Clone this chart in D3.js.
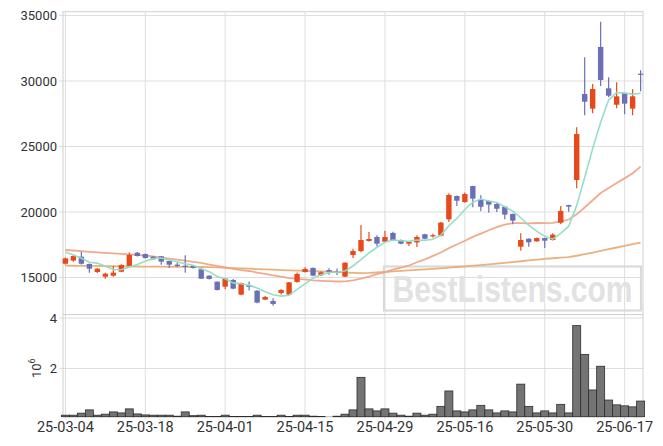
<!DOCTYPE html>
<html><head><meta charset="utf-8">
<script src="https://cdn.jsdelivr.net/npm/d3@7"></script>
<style>html,body{margin:0;padding:0;background:#fff;}svg{display:block;}</style>
</head><body>
<svg id="chart" width="663" height="446"></svg>
<script>
const dates = ["25-03-04","25-03-05","25-03-06","25-03-07","25-03-10","25-03-11","25-03-12","25-03-13","25-03-14","25-03-17",
"25-03-18","25-03-19","25-03-20","25-03-21","25-03-24","25-03-25","25-03-26","25-03-27","25-03-28","25-03-31",
"25-04-01","25-04-02","25-04-03","25-04-04","25-04-07","25-04-08","25-04-09","25-04-10","25-04-11","25-04-14",
"25-04-15","25-04-16","25-04-17","25-04-18","25-04-21","25-04-22","25-04-23","25-04-24","25-04-25","25-04-28",
"25-04-29","25-04-30","25-05-02","25-05-07","25-05-08","25-05-09","25-05-12","25-05-13","25-05-14","25-05-15",
"25-05-16","25-05-19","25-05-20","25-05-21","25-05-22","25-05-23","25-05-26","25-05-27","25-05-28","25-05-29",
"25-05-30","25-06-02","25-06-04","25-06-05","25-06-09","25-06-10","25-06-11","25-06-12","25-06-13","25-06-16",
"25-06-17","25-06-18","25-06-19"];

const open = [16050,16290,16590,16030,15420,15060,15140,15440,15880,16890,
16790,16590,16620,16260,15980,15900,15880,15630,15140,14680,
14300,14810,13690,14430,13990,13310,13210,13820,13690,14660,
15420,15730,15170,15570,15450,15060,16720,17020,17790,18090,
17730,18400,17860,17580,17680,18300,18140,18190,19440,21220,
20760,21980,20920,20840,20610,20410,19850,17350,17960,17760,
18010,17860,19180,20530,22440,29010,27890,32600,29440,28190,
29060,27890,30560];
const high = [16520,16700,16970,16060,15720,15360,15880,16020,16900,16940,
16830,16620,16650,16280,16130,16700,15920,15720,15170,14700,
14950,14880,14620,14700,14050,13580,13420,14100,14660,15380,
15780,15760,15450,15710,15680,16160,17200,19010,18470,18220,
18560,18500,17900,17730,18220,18330,18330,19230,21430,21260,
21480,22000,21280,20880,20710,20420,19880,18370,18000,18050,
18030,18370,20460,20560,26470,31810,29770,34530,30280,29900,
29100,29370,30820];
const low = [16000,16200,16000,15370,15340,14900,15060,15400,15850,16600,
16450,16350,15980,15740,15780,15370,15680,14880,14850,14000,
14100,14100,13650,14000,13040,13280,12850,13700,13650,14600,
15380,15100,15120,15200,15190,15030,16480,16920,17740,17380,
17680,17800,17540,17400,17330,17900,18060,18150,19230,20450,
20700,20360,20050,19940,20000,19450,19060,17050,17350,17720,
17260,17830,19080,20020,21810,27380,27530,29620,28750,27920,
27460,27380,29210];
const close = [16460,16640,16050,15670,15670,15290,15370,15950,16720,16640,
16490,16390,16210,15980,15880,15820,15730,14910,14890,14050,
14930,14150,14580,14280,13080,13510,12980,14050,14630,15270,
15650,15140,15400,15440,15400,16130,17020,17860,17940,17580,
18090,17840,17580,17710,18090,17960,18230,19190,21300,20860,
21370,21020,20400,20560,20250,19800,19340,17860,17690,18010,
17810,18270,20080,20410,25950,28420,29390,30080,28880,28830,
28270,28830,30520];

const ma5 = [16950,16720,16470,16160,16098,15864,15610,15590,15800,15994,
16234,16438,16490,16342,16190,16056,15924,15664,15446,15080,
14902,14586,14520,14398,14204,13920,13686,13580,13650,14088,
14516,14948,15218,15380,15406,15502,15878,16370,16870,17306,
17698,17862,17806,17760,17862,17836,17914,18236,18954,19508,
20190,20748,20990,20842,20720,20406,20070,19562,18988,18540,
18142,17928,18372,18916,20504,22626,24850,26850,28544,29120,
29090,28978,29066];
const ma20 = [17100,17060,17010,16960,16920,16880,16840,16800,16760,16720,
16680,16620,16520,16440,16360,16280,16200,16110,15990,15880,
15780,15650,15570,15497,15367,15278,15159,15064,14959,14891,
14849,14786,14746,14719,14695,14710,14775,14922,15075,15251,
15409,15594,15744,15915,16166,16388,16651,16908,17241,17521,
17807,18101,18351,18607,18849,19033,19149,19149,19136,19158,
19144,19165,19290,19425,19818,20341,20899,21444,21823,22221,
22566,22956,23462];
const ma60 = [15900,15895,15890,15885,15880,15870,15860,15850,15845,15840,
15835,15830,15825,15820,15815,15810,15805,15800,15790,15770,
15745,15720,15695,15670,15645,15620,15595,15570,15545,15520,
15500,15480,15465,15450,15420,15390,15360,15340,15350,15380,
15420,15460,15500,15540,15580,15620,15660,15700,15750,15800,
15850,15900,15950,16000,16060,16120,16180,16240,16300,16360,
16420,16470,16510,16560,16660,16780,16900,17030,17160,17290,
17410,17540,17660];

const volume = [150000,150000,230000,360000,150000,190000,280000,240000,400000,200000,
160000,150000,150000,150000,110000,280000,130000,150000,100000,100000,
150000,100000,100000,100000,150000,100000,100000,150000,100000,150000,
150000,110000,100000,90000,110000,190000,360000,1650000,400000,320000,
400000,230000,150000,110000,230000,150000,190000,500000,1110000,320000,
280000,360000,540000,360000,240000,320000,280000,1380000,500000,240000,
320000,240000,580000,240000,3700000,2560000,1150000,2090000,750000,560000,
520000,480000,710000];

const priceTicks = [15000,20000,25000,30000,35000];
const volTicks = [2000000,4000000];
const dateTickIdx = [0,10,20,30,40,50,60,70];
const watermark = "BestListens.com";

const svg = d3.select("#chart");
const L = 63, R = 643, PT = 11.7, PB = 314.5, VT = 314.5, VB = 416.7;
const n = dates.length;
const x = d3.scaleLinear().domain([-0.3, n - 1 + 0.3]).range([L, R]);
const y = d3.scaleLinear().domain([12175, 35290]).range([PB, PT]);
const yv = d3.scaleLinear().domain([90000, 4140000]).range([VB, VT]);

const grid = "#dedede", font = "Roboto, 'DejaVu Sans', sans-serif", txt = "#333";

// grids
const g = svg.append("g");
g.selectAll("line.hg").data(priceTicks).join("line")
  .attr("x1", L - 4).attr("x2", R).attr("y1", d => y(d)).attr("y2", d => y(d))
  .attr("stroke", grid).attr("stroke-width", 1);
g.selectAll("line.vg").data(volTicks).join("line")
  .attr("x1", L - 4).attr("x2", R).attr("y1", d => yv(d)).attr("y2", d => yv(d))
  .attr("stroke", grid).attr("stroke-width", 1);
g.selectAll("line.xg").data(dateTickIdx).join("line")
  .attr("x1", d => x(d)).attr("x2", d => x(d)).attr("y1", PT).attr("y2", VB + 3)
  .attr("stroke", grid).attr("stroke-width", 1);
// frames
svg.append("rect").attr("x", L).attr("y", PT).attr("width", R - L).attr("height", PB - PT)
  .attr("fill", "none").attr("stroke", "#d0d0d0");
svg.append("line").attr("x1", L).attr("x2", L).attr("y1", VT).attr("y2", VB).attr("stroke", "#d0d0d0");
svg.append("line").attr("x1", R).attr("x2", R).attr("y1", VT).attr("y2", VB).attr("stroke", "#d0d0d0");
svg.append("line").attr("x1", L).attr("x2", R).attr("y1", VB).attr("y2", VB).attr("stroke", "#bbb");

// watermark
const wm = svg.append("g");
wm.append("rect").attr("x", 384).attr("y", 266.5).attr("width", 257).attr("height", 44)
  .attr("fill", "none").attr("stroke", "#dadada").attr("stroke-width", 2.2);
wm.append("text").attr("transform", "translate(512.5,301.5) scale(1,1.24)")
  .attr("text-anchor", "middle").text(watermark)
  .attr("font-family", "'Liberation Sans', Arial, sans-serif").attr("font-weight", "bold")
  .attr("font-size", 30).attr("fill", "#e2e2e2");

// MA lines
const line = arr => d3.line().x((d, i) => x(i)).y(d => y(d))(arr);
svg.append("path").attr("d", line(ma60)).attr("fill", "none").attr("stroke", "#e9a86e").attr("stroke-width", 1.8).attr("opacity", 0.9);
svg.append("path").attr("d", line(ma20)).attr("fill", "none").attr("stroke", "#eea283").attr("stroke-width", 1.8).attr("opacity", 0.9);

// candles
const up = "#e8491a", down = "#6b70b6";
const cg = svg.append("g");
d3.range(n).forEach(i => {
  const c = close[i] >= open[i] ? up : down;
  cg.append("line").attr("x1", x(i)).attr("x2", x(i)).attr("y1", y(high[i])).attr("y2", y(low[i]))
    .attr("stroke", c).attr("stroke-width", 1.2);
  const top = y(Math.max(open[i], close[i])), bot = y(Math.min(open[i], close[i]));
  cg.append("rect").attr("x", x(i) - 2.7).attr("width", 5.4).attr("y", top).attr("height", Math.max(1.2, bot - top))
    .attr("fill", c);
});
svg.append("path").attr("d", line(ma5)).attr("fill", "none").attr("stroke", "#92dcc4").attr("stroke-width", 1.6).attr("opacity", 0.95);

// volume bars
svg.append("g").selectAll("rect").data(volume).join("rect")
  .attr("x", (d, i) => x(i) - 4).attr("width", 8)
  .attr("y", d => yv(d)).attr("height", d => VB - yv(d))
  .attr("fill", "#747474").attr("stroke", "#2e2e2e").attr("stroke-width", 0.8);

// axes labels
svg.append("g").selectAll("text").data(priceTicks).join("text")
  .attr("x", L - 6).attr("y", d => y(d)).attr("dy", "0.35em").attr("text-anchor", "end")
  .attr("font-family", font).attr("font-size", 13).attr("fill", txt).text(d => d);
svg.append("g").selectAll("text").data(volTicks).join("text")
  .attr("x", L - 6).attr("y", d => yv(d)).attr("dy", "0.35em").attr("text-anchor", "end")
  .attr("font-family", font).attr("font-size", 13).attr("fill", txt).text(d => d / 1e6);
const ex = svg.append("text").attr("transform", "translate(41,378) rotate(-90)")
  .attr("font-family", font).attr("font-size", 13).attr("fill", txt);
ex.append("tspan").text("10");
ex.append("tspan").attr("dy", -6).attr("font-size", 9).text("6");
svg.append("g").selectAll("text").data(dateTickIdx).join("text")
  .attr("x", d => x(d)).attr("y", 432).attr("text-anchor", "middle")
  .attr("font-family", font).attr("font-size", 14.5).attr("fill", txt).text(d => dates[d]);
</script>
</body></html>
